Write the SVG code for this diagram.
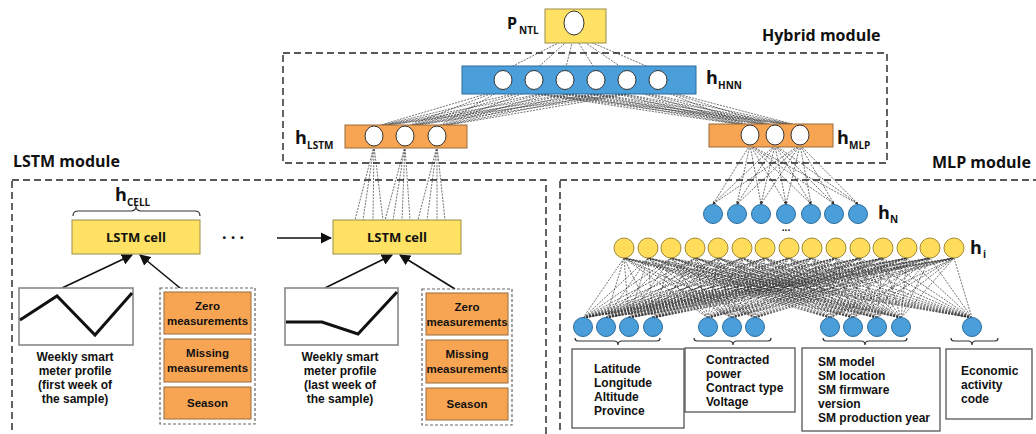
<svg xmlns="http://www.w3.org/2000/svg" width="1036" height="434" viewBox="0 0 1036 434">
  <defs>
    <marker id="arrow" viewBox="0 0 10 10" refX="9" refY="5" markerWidth="7" markerHeight="7" orient="auto-start-reverse">
      <path d="M0 0L10 5L0 10z" fill="#111"/>
    </marker>
    <marker id="tinyArrow" viewBox="0 0 10 10" refX="9" refY="5" markerWidth="4" markerHeight="4" orient="auto">
      <path d="M0 0L10 5L0 10z" fill="#333"/>
    </marker>
    <style>
      text { font-family: "Open Sans", "Liberation Sans", sans-serif; font-weight: bold; fill: #111; }
      .title { font-size: 16px; }
      .cell { font-size: 13px; }
      .lbl { font-family: "Liberation Sans", Arial, sans-serif; font-size: 12px; }
      .box { font-family: "Liberation Sans", Arial, sans-serif; font-size: 11.5px; }
      .hv { font-size: 18px; }
      .sub { font-size: 10px; }
      .module { fill: none; stroke: #222; stroke-width: 1.4; stroke-dasharray: 7 4; }
      .group { fill: #fff; stroke: #666; stroke-width: 1.2; stroke-dasharray: 3 2; }
      .yellow { fill: #FFE163; stroke: #9C8E4A; stroke-width: 1; }
      .blue { fill: #4A9FDB; stroke: #2D6C9C; stroke-width: 1; }
      .orange { fill: #F8A553; stroke: #9A6A3C; stroke-width: 1; }
      .white { fill: #fff; stroke: #333; stroke-width: 1; }
      .ycirc { fill: #FFDD5A; stroke: #A08A35; stroke-width: 1; }
      .chart { fill: #fff; stroke: #888; stroke-width: 1.6; }
      .curve { fill: none; stroke: #111; stroke-width: 3; stroke-linejoin: miter; }
      .info { fill: #fff; stroke: #555; stroke-width: 1.3; }
      .brace { fill: none; stroke: #333; stroke-width: 1.2; }
      .conn { fill: none; stroke: #333; stroke-width: 0.7; stroke-dasharray: 2 1.2; }
      .solid { fill: none; stroke: #111; stroke-width: 1.6; }
    </style>
  </defs>

  <!-- module frames and titles -->
  <g id="modules">
    <rect class="module" x="283" y="53" width="604" height="110"/>
    <text class="title" x="762" y="41">Hybrid module</text>
    <rect class="module" x="12" y="180" width="534" height="262"/>
    <text class="title" x="13" y="167">LSTM module</text>
    <rect class="module" x="560" y="180" width="490" height="262"/>
    <text class="title" x="932" y="168">MLP module</text>
  </g>

  <!-- connectors -->
  <g id="connectors">
    <!-- output to hybrid hidden layer -->
    <path class="conn" d="M574 35 503 71M574 35 534 71M574 35 565 71M574 35 596 71M574 35 627 71M574 35 658 71"/>
    <!-- hybrid hidden layer to LSTM / MLP outputs -->
    <path class="conn" d="M503 89 374 127M503 89 405 127M503 89 437 127M503 89 750 126M503 89 775 126M503 89 800 126
M534 89 374 127M534 89 405 127M534 89 437 127M534 89 750 126M534 89 775 126M534 89 800 126
M565 89 374 127M565 89 405 127M565 89 437 127M565 89 750 126M565 89 775 126M565 89 800 126
M596 89 374 127M596 89 405 127M596 89 437 127M596 89 750 126M596 89 775 126M596 89 800 126
M627 89 374 127M627 89 405 127M627 89 437 127M627 89 750 126M627 89 775 126M627 89 800 126
M658 89 374 127M658 89 405 127M658 89 437 127M658 89 750 126M658 89 775 126M658 89 800 126"/>
    <!-- LSTM output to last LSTM cell -->
    <path class="conn" d="M374 146 355 220M374 146 363 220M374 146 373 220M374 146 383 220
M405 146 385 220M405 146 393 220M405 146 402 220M405 146 410 220
M437 146 418 220M437 146 427 220M437 146 437 220M437 146 445 220"/>
    <!-- MLP output to last dense layer -->
    <g class="conn" marker-end="url(#tinyArrow)">
      <path d="M750 145 713 204"/><path d="M750 145 737 204"/><path d="M750 145 761 204"/><path d="M750 145 786 204"/><path d="M750 145 811 204"/><path d="M750 145 834 204"/><path d="M750 145 858 204"/>
      <path d="M775 145 713 204"/><path d="M775 145 737 204"/><path d="M775 145 761 204"/><path d="M775 145 786 204"/><path d="M775 145 811 204"/><path d="M775 145 834 204"/><path d="M775 145 858 204"/>
      <path d="M800 145 713 204"/><path d="M800 145 737 204"/><path d="M800 145 761 204"/><path d="M800 145 786 204"/><path d="M800 145 811 204"/><path d="M800 145 834 204"/><path d="M800 145 858 204"/>
    </g>
    <!-- input features to first dense layer -->
    <path class="conn" d="M583 318 624 258M583 318 648 258M583 318 671 258M583 318 695 258M583 318 718 258M583 318 742 258M583 318 765 258M583 318 789 258M583 318 812 258M583 318 836 258M583 318 860 258M583 318 883 258M583 318 907 258M583 318 930 258M583 318 954 258
M606 318 624 258M606 318 648 258M606 318 671 258M606 318 695 258M606 318 718 258M606 318 742 258M606 318 765 258M606 318 789 258M606 318 812 258M606 318 836 258M606 318 860 258M606 318 883 258M606 318 907 258M606 318 930 258M606 318 954 258
M629 318 624 258M629 318 648 258M629 318 671 258M629 318 695 258M629 318 718 258M629 318 742 258M629 318 765 258M629 318 789 258M629 318 812 258M629 318 836 258M629 318 860 258M629 318 883 258M629 318 907 258M629 318 930 258M629 318 954 258
M653 318 624 258M653 318 648 258M653 318 671 258M653 318 695 258M653 318 718 258M653 318 742 258M653 318 765 258M653 318 789 258M653 318 812 258M653 318 836 258M653 318 860 258M653 318 883 258M653 318 907 258M653 318 930 258M653 318 954 258
M708 318 624 258M708 318 648 258M708 318 671 258M708 318 695 258M708 318 718 258M708 318 742 258M708 318 765 258M708 318 789 258M708 318 812 258M708 318 836 258M708 318 860 258M708 318 883 258M708 318 907 258M708 318 930 258M708 318 954 258
M732 318 624 258M732 318 648 258M732 318 671 258M732 318 695 258M732 318 718 258M732 318 742 258M732 318 765 258M732 318 789 258M732 318 812 258M732 318 836 258M732 318 860 258M732 318 883 258M732 318 907 258M732 318 930 258M732 318 954 258
M755 318 624 258M755 318 648 258M755 318 671 258M755 318 695 258M755 318 718 258M755 318 742 258M755 318 765 258M755 318 789 258M755 318 812 258M755 318 836 258M755 318 860 258M755 318 883 258M755 318 907 258M755 318 930 258M755 318 954 258
M830 318 624 258M830 318 648 258M830 318 671 258M830 318 695 258M830 318 718 258M830 318 742 258M830 318 765 258M830 318 789 258M830 318 812 258M830 318 836 258M830 318 860 258M830 318 883 258M830 318 907 258M830 318 930 258M830 318 954 258
M853 318 624 258M853 318 648 258M853 318 671 258M853 318 695 258M853 318 718 258M853 318 742 258M853 318 765 258M853 318 789 258M853 318 812 258M853 318 836 258M853 318 860 258M853 318 883 258M853 318 907 258M853 318 930 258M853 318 954 258
M877 318 624 258M877 318 648 258M877 318 671 258M877 318 695 258M877 318 718 258M877 318 742 258M877 318 765 258M877 318 789 258M877 318 812 258M877 318 836 258M877 318 860 258M877 318 883 258M877 318 907 258M877 318 930 258M877 318 954 258
M901 318 624 258M901 318 648 258M901 318 671 258M901 318 695 258M901 318 718 258M901 318 742 258M901 318 765 258M901 318 789 258M901 318 812 258M901 318 836 258M901 318 860 258M901 318 883 258M901 318 907 258M901 318 930 258M901 318 954 258
M972 318 624 258M972 318 648 258M972 318 671 258M972 318 695 258M972 318 718 258M972 318 742 258M972 318 765 258M972 318 789 258M972 318 812 258M972 318 836 258M972 318 860 258M972 318 883 258M972 318 907 258M972 318 930 258M972 318 954 258"/>
    <!-- LSTM inputs and recurrence -->
    <g class="solid" marker-end="url(#arrow)">
      <path d="M62 288 132 255"/>
      <path d="M180 288 140 255"/>
      <path d="M325 288 392 255"/>
      <path d="M455 289 400 255"/>
      <path d="M277 238 331 238"/>
    </g>
  </g>

  <!-- hybrid module -->
  <g id="p-ntl">
    <rect class="yellow" x="545" y="9" width="61" height="34"/>
    <ellipse class="white" cx="574" cy="23" rx="10" ry="12"/>
    <text class="hv" x="507" y="29" style="font-size:16px">P<tspan class="sub" x="519" y="34">NTL</tspan></text>
  </g>
  <g id="h-hnn">
    <rect class="blue" x="462" y="66" width="234" height="28"/>
    <ellipse class="white" cx="503" cy="80" rx="9" ry="9.5"/>
    <ellipse class="white" cx="534" cy="80" rx="9" ry="9.5"/>
    <ellipse class="white" cx="565" cy="80" rx="9" ry="9.5"/>
    <ellipse class="white" cx="596" cy="80" rx="9" ry="9.5"/>
    <ellipse class="white" cx="627" cy="80" rx="9" ry="9.5"/>
    <ellipse class="white" cx="658" cy="80" rx="9" ry="9.5"/>
    <text class="hv" x="706" y="84">h<tspan class="sub" x="718" y="89">HNN</tspan></text>
  </g>
  <g id="h-lstm">
    <rect class="orange" x="345" y="125" width="122" height="23"/>
    <ellipse class="white" cx="374" cy="136" rx="9" ry="10"/>
    <ellipse class="white" cx="405" cy="136" rx="9" ry="10"/>
    <ellipse class="white" cx="437" cy="136" rx="9" ry="10"/>
    <text class="hv" x="295" y="144">h<tspan class="sub" x="307" y="149">LSTM</tspan></text>
  </g>
  <g id="h-mlp">
    <rect class="orange" x="709" y="124" width="124" height="23"/>
    <ellipse class="white" cx="750" cy="135" rx="9" ry="10"/>
    <ellipse class="white" cx="775" cy="135" rx="9" ry="10"/>
    <ellipse class="white" cx="800" cy="135" rx="9" ry="10"/>
    <text class="hv" x="837" y="144">h<tspan class="sub" x="849" y="149">MLP</tspan></text>
  </g>

  <!-- LSTM module -->
  <g id="cell-first">
    <path class="brace" d="M73 216Q73 211 78 211L131 211Q136 211 136 206Q136 211 141 211L195 211Q200 211 200 216"/>
    <text class="hv" x="115" y="201">h<tspan class="sub" x="127" y="206">CELL</tspan></text>
    <rect class="yellow" x="72" y="220" width="128" height="34"/>
    <text class="cell" x="136" y="242" text-anchor="middle">LSTM cell</text>
  </g>
  <g id="ellipsis">
    <text class="title" x="233" y="243" text-anchor="middle">· · ·</text>
  </g>
  <g id="cell-last">
    <rect class="yellow" x="333" y="220" width="128" height="34"/>
    <text class="cell" x="397" y="242" text-anchor="middle">LSTM cell</text>
  </g>
  <g id="profile-first">
    <rect class="chart" x="19" y="288" width="114" height="57"/>
    <polyline class="curve" points="20,320 57,296 95,335 132,293"/>
    <text class="lbl" text-anchor="middle"><tspan x="75" y="361">Weekly smart</tspan><tspan x="75" y="375">meter profile</tspan><tspan x="75" y="389">(first week of</tspan><tspan x="75" y="403">the sample)</tspan></text>
  </g>
  <g id="features-first">
    <rect class="group" x="160" y="288" width="95" height="136"/>
    <rect class="orange" x="164" y="292" width="87" height="42"/>
    <text class="box" text-anchor="middle"><tspan x="207.5" y="310">Zero</tspan><tspan x="207.5" y="325">measurements</tspan></text>
    <rect class="orange" x="164" y="339" width="87" height="43"/>
    <text class="box" text-anchor="middle"><tspan x="207.5" y="357">Missing</tspan><tspan x="207.5" y="372">measurements</tspan></text>
    <rect class="orange" x="164" y="387" width="87" height="32"/>
    <text class="box" x="207.5" y="407" text-anchor="middle">Season</text>
  </g>
  <g id="profile-last">
    <rect class="chart" x="285" y="288" width="113" height="57"/>
    <polyline class="curve" points="286,322 322,322 358,334 397,292"/>
    <text class="lbl" text-anchor="middle"><tspan x="340" y="361">Weekly smart</tspan><tspan x="340" y="375">meter profile</tspan><tspan x="340" y="389">(last week of</tspan><tspan x="340" y="403">the sample)</tspan></text>
  </g>
  <g id="features-last">
    <rect class="group" x="422" y="289" width="90" height="136"/>
    <rect class="orange" x="426" y="293" width="82" height="42"/>
    <text class="box" text-anchor="middle"><tspan x="467" y="311">Zero</tspan><tspan x="467" y="326">measurements</tspan></text>
    <rect class="orange" x="426" y="340" width="82" height="43"/>
    <text class="box" text-anchor="middle"><tspan x="467" y="358">Missing</tspan><tspan x="467" y="373">measurements</tspan></text>
    <rect class="orange" x="426" y="388" width="82" height="32"/>
    <text class="box" x="467" y="408" text-anchor="middle">Season</text>
  </g>

  <!-- MLP module -->
  <g id="h-n">
    <circle class="blue" cx="713" cy="214" r="9.5"/>
    <circle class="blue" cx="737" cy="214" r="9.5"/>
    <circle class="blue" cx="761" cy="214" r="9.5"/>
    <circle class="blue" cx="786" cy="214" r="9.5"/>
    <circle class="blue" cx="811" cy="214" r="9.5"/>
    <circle class="blue" cx="834" cy="214" r="9.5"/>
    <circle class="blue" cx="858" cy="214" r="9.5"/>
    <text class="sub" x="786" y="231" text-anchor="middle">...</text>
    <text class="hv" x="878" y="219">h<tspan class="sub" x="890" y="223">N</tspan></text>
  </g>
  <g id="h-i">
    <circle class="ycirc" cx="624" cy="248" r="10"/>
    <circle class="ycirc" cx="648" cy="248" r="10"/>
    <circle class="ycirc" cx="671" cy="248" r="10"/>
    <circle class="ycirc" cx="695" cy="248" r="10"/>
    <circle class="ycirc" cx="718" cy="248" r="10"/>
    <circle class="ycirc" cx="742" cy="248" r="10"/>
    <circle class="ycirc" cx="765" cy="248" r="10"/>
    <circle class="ycirc" cx="789" cy="248" r="10"/>
    <circle class="ycirc" cx="812" cy="248" r="10"/>
    <circle class="ycirc" cx="836" cy="248" r="10"/>
    <circle class="ycirc" cx="860" cy="248" r="10"/>
    <circle class="ycirc" cx="883" cy="248" r="10"/>
    <circle class="ycirc" cx="907" cy="248" r="10"/>
    <circle class="ycirc" cx="930" cy="248" r="10"/>
    <circle class="ycirc" cx="954" cy="248" r="10"/>
    <text class="hv" x="970" y="254">h<tspan class="sub" x="983" y="258">i</tspan></text>
  </g>
  <g id="input-location">
    <circle class="blue" cx="583" cy="327" r="9.5"/>
    <circle class="blue" cx="606" cy="327" r="9.5"/>
    <circle class="blue" cx="629" cy="327" r="9.5"/>
    <circle class="blue" cx="653" cy="327" r="9.5"/>
    <path class="brace" d="M575 338Q575 341 578 341L614 341Q618 341 618 345Q618 341 622 341L657 341Q660 341 660 338"/>
    <rect class="info" x="572" y="349" width="112" height="79"/>
    <text class="lbl"><tspan x="594" y="373">Latitude</tspan><tspan x="594" y="387">Longitude</tspan><tspan x="594" y="401">Altitude</tspan><tspan x="594" y="415">Province</tspan></text>
  </g>
  <g id="input-contract">
    <circle class="blue" cx="708" cy="327" r="9.5"/>
    <circle class="blue" cx="732" cy="327" r="9.5"/>
    <circle class="blue" cx="755" cy="327" r="9.5"/>
    <path class="brace" d="M694 338Q694 341 697 341L729 341Q733 341 733 345Q733 341 737 341L768 341Q771 341 771 338"/>
    <rect class="info" x="685" y="348" width="110" height="64"/>
    <text class="lbl"><tspan x="706" y="364">Contracted</tspan><tspan x="706" y="378">power</tspan><tspan x="706" y="392">Contract type</tspan><tspan x="706" y="406">Voltage</tspan></text>
  </g>
  <g id="input-meter">
    <circle class="blue" cx="830" cy="327" r="9.5"/>
    <circle class="blue" cx="853" cy="327" r="9.5"/>
    <circle class="blue" cx="877" cy="327" r="9.5"/>
    <circle class="blue" cx="901" cy="327" r="9.5"/>
    <path class="brace" d="M823 338Q823 341 826 341L861 341Q865 341 865 345Q865 341 869 341L904 341Q907 341 907 338"/>
    <rect class="info" x="802" y="348" width="138" height="83"/>
    <text class="lbl"><tspan x="818" y="366">SM model</tspan><tspan x="818" y="380">SM location</tspan><tspan x="818" y="394">SM firmware</tspan><tspan x="818" y="408">version</tspan><tspan x="818" y="422">SM production year</tspan></text>
  </g>
  <g id="input-activity">
    <circle class="blue" cx="972" cy="327" r="9.5"/>
    <path class="brace" d="M951 338Q951 341 954 341L968 341Q972 341 972 345Q972 341 976 341L995 341Q998 341 998 338"/>
    <rect class="info" x="946" y="349" width="86" height="70"/>
    <text class="lbl"><tspan x="961" y="375">Economic</tspan><tspan x="961" y="389">activity</tspan><tspan x="961" y="403">code</tspan></text>
  </g>
</svg>
